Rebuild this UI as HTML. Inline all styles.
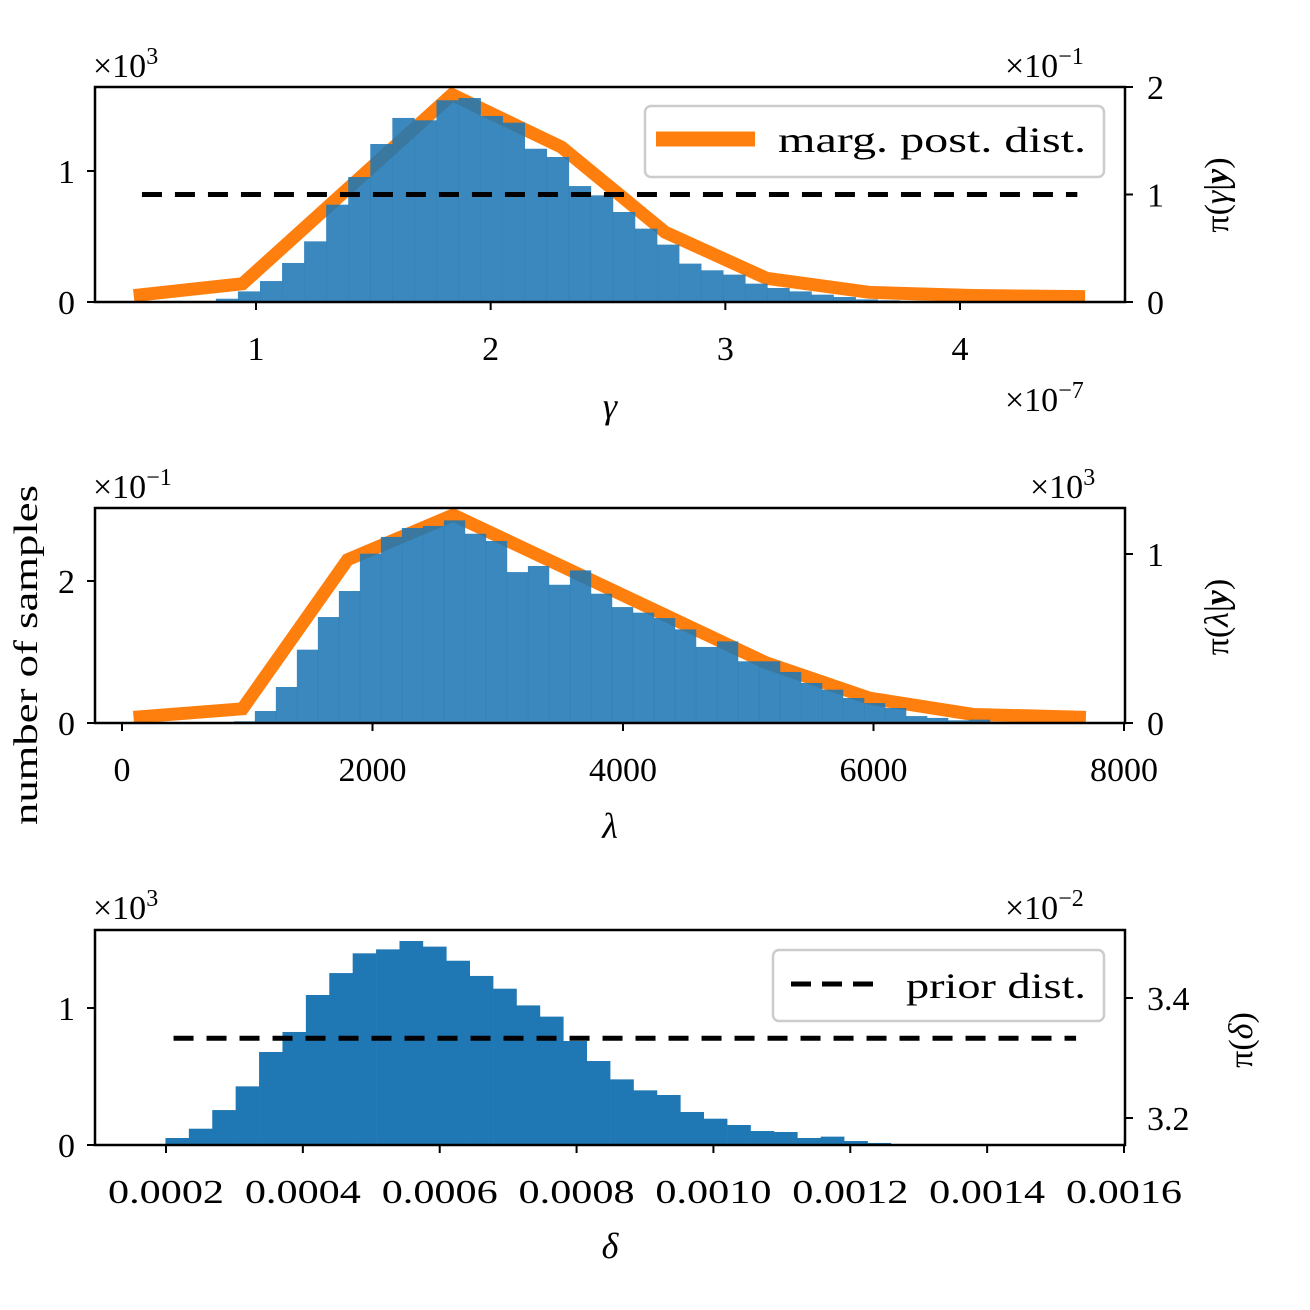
<!DOCTYPE html>
<html><head><meta charset="utf-8"><style>
body{margin:0;background:#fff}
svg{display:block;font-family:"Liberation Serif","DejaVu Serif",serif}
</style></head><body>
<svg id="fig" width="1310" height="1310" viewBox="0 0 1310 1310"></svg>
<script>
// ---- Panel 1 (gamma) data ----
const gammaBinStart = 0.829, gammaBinWidth = 0.094;
const gammaCounts = [25,81,160,298,463,743,954,1206,1405,1387,1540,1557,1420,1369,1170,1107,885,814,687,560,438,293,242,209,140,107,81,56,38,20,13,8,5,5];
const gammaPostX = [0.479,0.943,1.835,2.302,2.743,3.176,3.612,4.053,4.533];
const gammaPostY = [0.06,0.17,1.93,1.44,0.65,0.22,0.09,0.06,0.05];
const gammaPrior = [0.514, 4.50, 1.0];
const gammaTicks = [1,2,3,4];
// ---- Panel 2 (lambda) data ----
const lambdaBinStart = 893, lambdaBinWidth = 167.7;
const lambdaCounts = [10,71,213,434,627,781,1002,1101,1154,1166,1199,1120,1077,893,929,818,903,765,686,653,621,554,450,483,365,365,302,237,197,148,118,89,41,30,16,20,2,3];
const lambdaPostX = [92,962,1801,2645,5140,5968,6796,7696];
const lambdaPostY = [0.08,0.2,2.3,2.93,0.85,0.35,0.12,0.08];
const lambdaTicks = [0,2000,4000,6000,8000];
// ---- Panel 3 (delta) data ----
const deltaBinStart = 0.000165, deltaBinWidth = 0.0000342;
const deltaCounts = [5,51,119,255,428,679,825,1095,1255,1399,1428,1489,1448,1345,1234,1141,1019,937,759,613,479,399,365,241,192,146,102,95,51,61,29,15,7,2,5];
const deltaPrior = [0.000211, 0.00153, 3.333];
const deltaTicks = [0.0002,0.0004,0.0006,0.0008,0.0010,0.0012,0.0014,0.0016];

const NS="http://www.w3.org/2000/svg";
const svg=document.getElementById('fig');
const FS=34;
function mk(tag,attrs,parent){const e=document.createElementNS(NS,tag);for(const k in attrs)e.setAttribute(k,attrs[k]);(parent||svg).appendChild(e);return e;}
function txt(s,x,y,size,anchor,parent,extra){const t=mk('text',Object.assign({x:x,y:y,'font-size':size,'text-anchor':anchor||'middle',fill:'#000'},extra||{}),parent);t.innerHTML=s;return t;}
const SUP=(s)=>'×10<tspan font-size="24" dy="-13">'+s+'</tspan>';
const SG='spacingAndGlyphs';

const L=95,R=1125;
function lin(d0,d1,p0,p1){return v=>p0+(v-d0)*(p1-p0)/(d1-d0);}

// ===== Panel 1 =====
{
const g=mk('g',{});


const x=lin(1,4,256,960), yc=lin(0,1000,302,171), yd=lin(0,1,302,194.5);
let pts=gammaPostX.map((v,i)=>x(v)+','+yd(gammaPostY[i])).join(' ');
const pl=mk('polyline',{points:pts,fill:'none',stroke:'#ff7f0e','stroke-width':13,'stroke-linejoin':'miter'},g);


gammaCounts.forEach((c,i)=>{const x0=x(gammaBinStart+i*gammaBinWidth),x1=x(gammaBinStart+(i+1)*gammaBinWidth);
const r=mk('rect',{x:x0,y:yc(c),width:x1-x0+0.3,height:302-yc(c),fill:'#1f77b4','fill-opacity':0.88},g);

});
const dl=mk('line',{x1:x(gammaPrior[0]),x2:x(gammaPrior[1]),y1:yd(gammaPrior[2]),y2:yd(gammaPrior[2]),stroke:'#000','stroke-width':5,'stroke-dasharray':'20 13'},g);


mk('rect',{x:L,y:87,width:R-L,height:215,fill:'none',stroke:'#000','stroke-width':2.5},g);
gammaTicks.forEach(t=>{mk('line',{x1:x(t),x2:x(t),y1:302,y2:310,stroke:'#000','stroke-width':2},g);txt(String(t),x(t),360,FS,'middle',g);});
[0,1].forEach(t=>{mk('line',{x1:L-8,x2:L,y1:yc(t*1000),y2:yc(t*1000),stroke:'#000','stroke-width':2},g);txt(String(t),L-20,yc(t*1000)+12,FS,'end',g);});
[0,1,2].forEach(t=>{mk('line',{x1:R,x2:R+8,y1:yd(t),y2:yd(t),stroke:'#000','stroke-width':2},g);txt(String(t),R+22,yd(t)+12,FS,'start',g);});
txt(SUP('3'),93,77,FS,'start',g);
txt(SUP('−1'),1005,77,FS,'start',g);
txt(SUP('−7'),1005,411,FS,'start',g);
txt('<tspan font-style="italic">γ</tspan>',610,418,36,'middle',g);
txt('π(<tspan font-style="italic">γ</tspan>|<tspan font-weight="bold" font-style="italic">y</tspan>)',0,0,FS,'middle',g,{transform:'translate(1228,195) rotate(-90)'});
const lg=mk('g',{},g);


mk('rect',{x:645,y:106,width:459,height:71,rx:6,fill:'#fff','fill-opacity':0.8,stroke:'#ccc','stroke-width':2.5},lg);
mk('line',{x1:656,x2:755,y1:139,y2:139,stroke:'#ff7f0e','stroke-width':15},lg);
txt('marg. post. dist.',778,152,36,'start',lg,{textLength:308,lengthAdjust:SG});
}

// ===== Panel 2 =====
{
const g=mk('g',{});


const x=lin(0,8000,122,1124), yc=lin(0,1000,723,554), yd=lin(0,2,723,581);
let pts=lambdaPostX.map((v,i)=>x(v)+','+yd(lambdaPostY[i])).join(' ');
const pl=mk('polyline',{points:pts,fill:'none',stroke:'#ff7f0e','stroke-width':13},g);


lambdaCounts.forEach((c,i)=>{const x0=x(lambdaBinStart+i*lambdaBinWidth),x1=x(lambdaBinStart+(i+1)*lambdaBinWidth);
const r=mk('rect',{x:x0,y:yc(c),width:x1-x0+0.3,height:723-yc(c),fill:'#1f77b4','fill-opacity':0.88},g);

});
mk('rect',{x:L,y:508,width:R-L,height:215,fill:'none',stroke:'#000','stroke-width':2.5},g);
lambdaTicks.forEach(t=>{mk('line',{x1:x(t),x2:x(t),y1:723,y2:731,stroke:'#000','stroke-width':2},g);txt(String(t),x(t),781,FS,'middle',g);});
[0,2].forEach(t=>{mk('line',{x1:L-8,x2:L,y1:yd(t),y2:yd(t),stroke:'#000','stroke-width':2},g);txt(String(t),L-20,yd(t)+12,FS,'end',g);});
[0,1].forEach(t=>{mk('line',{x1:R,x2:R+8,y1:yc(t*1000),y2:yc(t*1000),stroke:'#000','stroke-width':2},g);txt(String(t),R+22,yc(t*1000)+12,FS,'start',g);});
txt(SUP('−1'),93,498,FS,'start',g);
txt(SUP('3'),1030,498,FS,'start',g);
txt('<tspan font-style="italic">λ</tspan>',610,838,36,'middle',g);
txt('π(<tspan font-style="italic">λ</tspan>|<tspan font-weight="bold" font-style="italic">y</tspan>)',0,0,FS,'middle',g,{transform:'translate(1228,617) rotate(-90)'});
txt('number of samples',0,0,FS,'middle',g,{transform:'translate(37,655) rotate(-90)',textLength:340,lengthAdjust:SG});
}

// ===== Panel 3 =====
{
const g=mk('g',{});


const x=lin(0.0002,0.0016,166,1124), yc=lin(0,1000,1145,1008), yd=lin(3.2,3.4,1118,998);
deltaCounts.forEach((c,i)=>{const x0=x(deltaBinStart+i*deltaBinWidth),x1=x(deltaBinStart+(i+1)*deltaBinWidth);
const r=mk('rect',{x:x0,y:yc(c),width:x1-x0+0.3,height:1145-yc(c),fill:'#1f77b4'},g);

});
const dl=mk('line',{x1:x(deltaPrior[0]),x2:x(deltaPrior[1]),y1:yd(deltaPrior[2]),y2:yd(deltaPrior[2]),stroke:'#000','stroke-width':5,'stroke-dasharray':'20 13'},g);


mk('rect',{x:L,y:930,width:R-L,height:215,fill:'none',stroke:'#000','stroke-width':2.5},g);
deltaTicks.forEach(t=>{mk('line',{x1:x(t),x2:x(t),y1:1145,y2:1153,stroke:'#000','stroke-width':2},g);txt(t.toFixed(4),x(t),1203,FS,'middle',g,{textLength:116,lengthAdjust:SG});});
[0,1].forEach(t=>{mk('line',{x1:L-8,x2:L,y1:yc(t*1000),y2:yc(t*1000),stroke:'#000','stroke-width':2},g);txt(String(t),L-20,yc(t*1000)+12,FS,'end',g);});
[3.2,3.4].forEach(t=>{mk('line',{x1:R,x2:R+8,y1:yd(t),y2:yd(t),stroke:'#000','stroke-width':2},g);txt(t.toFixed(1),R+22,yd(t)+12,FS,'start',g);});
txt(SUP('3'),93,919,FS,'start',g);
txt(SUP('−2'),1005,919,FS,'start',g);
txt('<tspan font-style="italic">δ</tspan>',610,1258,36,'middle',g);
txt('π(<tspan font-style="italic">δ</tspan>)',0,0,FS,'middle',g,{transform:'translate(1252,1040) rotate(-90)'});
const lg=mk('g',{},g);


mk('rect',{x:773,y:950,width:331,height:71,rx:6,fill:'#fff','fill-opacity':0.8,stroke:'#ccc','stroke-width':2.5},lg);
mk('line',{x1:791,x2:875,y1:984,y2:984,stroke:'#000','stroke-width':5,'stroke-dasharray':'20 11'},lg);
txt('prior dist.',906,998,36,'start',lg,{textLength:180,lengthAdjust:SG});
}
</script>
</body></html>
